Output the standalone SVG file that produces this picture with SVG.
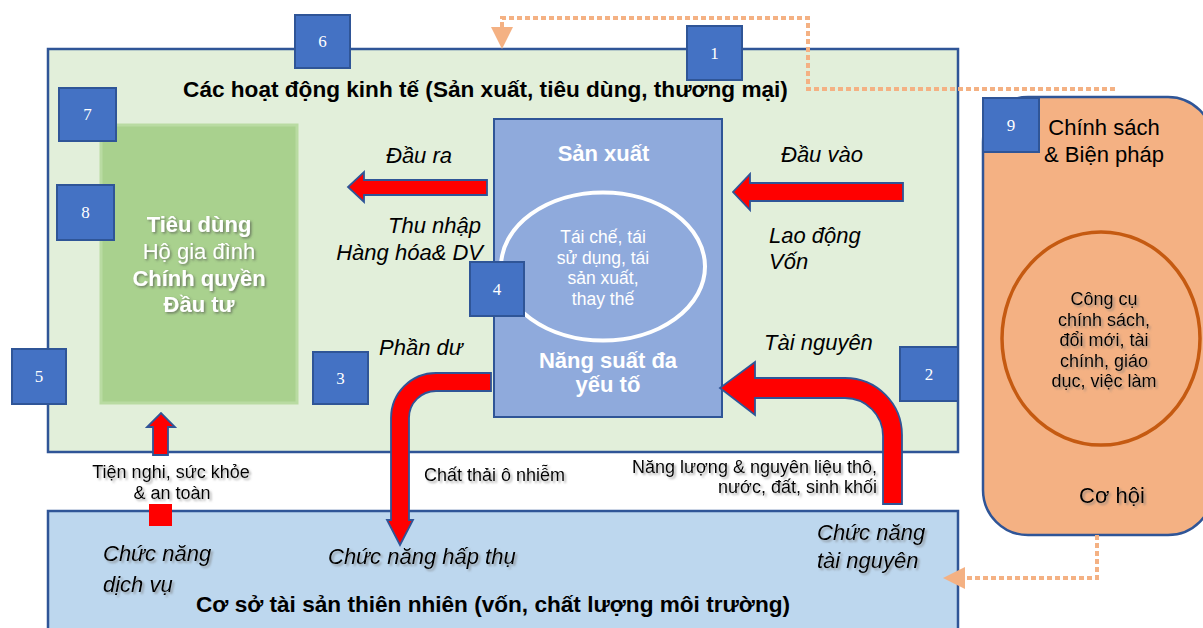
<svg xmlns="http://www.w3.org/2000/svg" width="1203" height="628" viewBox="0 0 1203 628">
<defs>
<style>
.t{font-family:"Liberation Sans",Arial,sans-serif;}
.b{font-weight:bold;}
.i{font-style:italic;}
.num{font-family:"Liberation Serif","Times New Roman",serif;font-size:17px;fill:#fff;text-anchor:middle;}
.box{fill:#4472C4;stroke:#2F5597;stroke-width:2;}
.red{fill:#FF0000;stroke:#2F5597;stroke-width:1.8;stroke-linejoin:miter;}
.dash{fill:none;stroke:#F4B183;stroke-width:4;stroke-dasharray:5 3;}
.lbl{font-size:22px;font-style:italic;fill:#000;}
.sm{font-size:18px;fill:#000;}
.wh{fill:#fff;}
.mid{text-anchor:middle;}
.end{text-anchor:end;}
</style>
<filter id="sh" x="-10%" y="-30%" width="120%" height="160%">
<feDropShadow dx="2" dy="2" stdDeviation="1.2" flood-color="#777" flood-opacity="0.6"/>
</filter>
<filter id="shw" x="-10%" y="-30%" width="120%" height="160%">
<feDropShadow dx="1.5" dy="1.5" stdDeviation="1" flood-color="#444" flood-opacity="0.6"/>
</filter>
<marker id="oh" viewBox="0 0 10 10" refX="0" refY="5" markerWidth="5.5" markerHeight="5.5" orient="auto" markerUnits="strokeWidth">
<path d="M0,0 L10,5 L0,10 z" fill="#F4B183"/>
</marker>
</defs>

<g id="economy">
<rect x="48" y="49" width="910" height="403" fill="#E2EFDA" stroke="#2F5597" stroke-width="2.5"/>
<text class="t b" x="485.5" y="97" font-size="22.6" text-anchor="middle">Các hoạt động kinh tế (Sản xuất, tiêu dùng, thương mại)</text>
</g>

<g id="nature">
<rect x="48" y="511" width="910" height="125" fill="#BDD7EE" stroke="#2F5597" stroke-width="2.5"/>
<text class="t b" x="493" y="612" font-size="22.6" text-anchor="middle">Cơ sở tài sản thiên nhiên (vốn, chất lượng môi trường)</text>
<g filter="url(#sh)">
<text class="t lbl" x="103" y="561">Chức năng</text>
<text class="t lbl" x="103" y="592">dịch vụ</text>
<text class="t lbl" x="328" y="564">Chức năng hấp thụ</text>
<text class="t lbl" x="817" y="540">Chức năng</text>
<text class="t lbl" x="817" y="568">tài nguyên</text>
</g>
</g>

<g id="policy">
<rect x="983" y="97" width="230" height="438" rx="45" ry="45" fill="#F4B183" stroke="#2F5597" stroke-width="2.5"/>
<text class="t" x="1104" y="135" font-size="22" text-anchor="middle">Chính sách</text>
<text class="t" x="1104" y="162" font-size="22" text-anchor="middle">&amp; Biện pháp</text>
<ellipse cx="1101" cy="338.5" rx="99" ry="106.5" fill="none" stroke="#C55A11" stroke-width="3.5"/>
<g filter="url(#sh)" class="t sm mid">
<text x="1104" y="305">Công cụ</text>
<text x="1104" y="325.5">chính sách,</text>
<text x="1104" y="346">đổi mới, tài</text>
<text x="1104" y="366.5">chính, giáo</text>
<text x="1104" y="387">dục, việc làm</text>
</g>
<text class="t" x="1112" y="503" font-size="22" text-anchor="middle" filter="url(#sh)">Cơ hội</text>
</g>

<g id="consumption">
<rect x="101" y="125" width="196" height="278" fill="#A9D18E" stroke="#B9DBA2" stroke-width="3"/>
<g filter="url(#shw)" class="t wh mid" font-size="22">
<text class="b" x="199" y="232">Tiêu dùng</text>
<text x="199" y="259">Hộ gia đình</text>
<text class="b" x="199" y="286">Chính quyền</text>
<text class="b" x="199" y="312">Đầu tư</text>
</g>
</g>

<g id="production">
<rect x="494" y="119" width="228" height="298" fill="#8FAADC" stroke="#2F5597" stroke-width="2"/>
<text class="t b wh mid" x="603.5" y="161" font-size="22">Sản xuất</text>
<ellipse cx="603" cy="266.5" rx="102" ry="74" fill="none" stroke="#fff" stroke-width="4"/>
<g class="t wh mid" font-size="17.5">
<text x="603" y="243">Tái chế, tái</text>
<text x="603" y="263.5">sử dụng, tái</text>
<text x="603" y="284">sản xuất,</text>
<text x="603" y="304.5">thay thế</text>
</g>
<text class="t b wh mid" x="608" y="368" font-size="22">Năng suất đa</text>
<text class="t b wh mid" x="608" y="392" font-size="22">yếu tố</text>
</g>

<g id="connectors">
<path class="red" d="M487,180 L364,180 L364,172 L348,187 L364,202 L364,195 L487,195 Z"/>
<path class="red" d="M903,183 L750,183 L750,174 L733,192 L750,210 L750,201 L903,201 Z"/>
<path class="red" d="M491,373 L436,373 A45,45 0 0 0 391,418 L391,520 L387,520 L400,545 L413,520 L409,520 L409,418 A27,27 0 0 1 436,391 L491,391 Z"/>
<path class="red" d="M902,504 L902,435 A57,57 0 0 0 845,378 L755,378 L755,362 L720,388 L755,415 L755,398 L845,398 A38,38 0 0 1 883,436 L883,504 Z"/>
<path class="red" d="M153,455 L153,427 L147,427 L161,413 L175,427 L168,427 L168,455 Z"/>
<rect x="149" y="504" width="23" height="22" fill="#FF0000"/>
<path class="dash" d="M1115,89 L808,89 L808,18 L502,18 L502,27" marker-end="url(#oh)"/>
<path class="dash" d="M1097,535 L1097,578 L965,578" marker-end="url(#oh)"/>
</g>

<g id="labels" class="t">
<text class="lbl" x="386" y="163">Đầu ra</text>
<text class="lbl" x="781" y="162">Đầu vào</text>
<text class="lbl end" x="481" y="233">Thu nhập</text>
<text class="lbl end" x="483" y="260">Hàng hóa&amp; DV</text>
<text class="lbl" x="769" y="243">Lao động</text>
<text class="lbl" x="769" y="269">Vốn</text>
<text class="lbl" x="764" y="350">Tài nguyên</text>
<text class="lbl" x="379" y="355">Phần dư</text>
<g filter="url(#sh)">
<text class="sm mid" x="171" y="478">Tiện nghi, sức khỏe</text>
<text class="sm mid" x="172" y="499">&amp; an toàn</text>
<text class="sm" x="424" y="481">Chất thải ô nhiễm</text>
<text class="sm end" x="877" y="473">Năng lượng &amp; nguyên liệu thô,</text>
<text class="sm end" x="877" y="493">nước, đất, sinh khối</text>
</g>
</g>

<g id="node1"><rect class="box" x="687" y="26" width="55" height="54"/><text class="num" x="714.5" y="59">1</text></g>
<g id="node2"><rect class="box" x="900" y="347" width="58" height="54"/><text class="num" x="929" y="380">2</text></g>
<g id="node3"><rect class="box" x="313" y="352" width="55" height="52"/><text class="num" x="340.5" y="384">3</text></g>
<g id="node4"><rect class="box" x="470" y="262" width="54" height="54"/><text class="num" x="497" y="295">4</text></g>
<g id="node5"><rect class="box" x="12" y="349" width="54" height="55"/><text class="num" x="39" y="382">5</text></g>
<g id="node6"><rect class="box" x="295" y="15" width="55" height="53"/><text class="num" x="322.5" y="47">6</text></g>
<g id="node7"><rect class="box" x="59" y="88" width="57" height="53"/><text class="num" x="87.5" y="120">7</text></g>
<g id="node8"><rect class="box" x="57" y="185" width="57" height="55"/><text class="num" x="85.5" y="218">8</text></g>
<g id="node9"><rect class="box" x="983" y="98" width="56" height="54"/><text class="num" x="1011" y="131">9</text></g>
</svg>
